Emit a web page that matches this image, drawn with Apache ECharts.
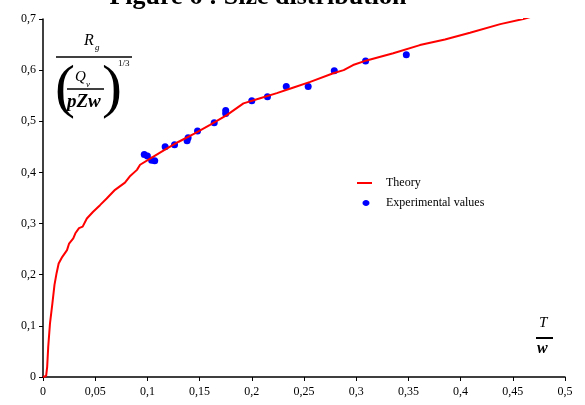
<!DOCTYPE html>
<html><head><meta charset="utf-8">
<script src="https://cdn.jsdelivr.net/npm/echarts@6/dist/echarts.min.js"></script>
<style>html,body{margin:0;padding:0;background:#fff}#c{width:585px;height:405px}</style>
</head><body><div id="c"></div>
<script>
var xTicks = ['0','0,05','0,1','0,15','0,2','0,25','0,3','0,35','0,4','0,45','0,5'];
var yTicks = ['0','0,1','0,2','0,3','0,4','0,5','0,6','0,7'];
var theoryX = [0,0.003,0.004,0.005,0.0067,0.009,0.011,0.013,0.015,0.0185,0.023,0.025,0.029,0.031,0.0345,0.038,0.042,0.048,0.0546,0.061,0.069,0.0785,0.083,0.090,0.093,0.105,0.118,0.130,0.145,0.160,0.176,0.192,0.208,0.224,0.240,0.256,0.278,0.288,0.297,0.310,0.3355,0.361,0.385,0.409,0.438,0.460,0.481];
var theoryY = [0,0.002,0.020,0.059,0.105,0.144,0.180,0.203,0.222,0.235,0.248,0.261,0.271,0.281,0.291,0.294,0.310,0.323,0.336,0.349,0.366,0.380,0.392,0.405,0.415,0.430,0.446,0.460,0.476,0.493,0.512,0.535,0.545,0.555,0.566,0.577,0.594,0.600,0.610,0.619,0.633,0.649,0.660,0.673,0.690,0.700,0.712];
var expX = [0.097,0.100,0.104,0.107,0.117,0.126,0.138,0.139,0.148,0.164,0.175,0.175,0.200,0.215,0.233,0.254,0.279,0.309,0.348];
var expY = [0.435,0.432,0.424,0.423,0.450,0.454,0.462,0.468,0.481,0.497,0.515,0.521,0.540,0.548,0.568,0.568,0.599,0.618,0.630];
var seriesNames = ['Theory','Experimental values'];

var theory = theoryX.map(function(x,i){return [x, theoryY[i]];});
var exp = expX.map(function(x,i){return [x, expY[i]];});
var F = 'Liberation Serif';
var chart = echarts.init(document.getElementById('c'));
chart.setOption({
  animation:false,
  backgroundColor:'#fff',
  grid:{left:43,right:20,top:19,bottom:28},
  xAxis:{type:'value',min:0,max:0.5,interval:0.05,
    axisLine:{lineStyle:{color:'#000',width:1.5}},
    axisTick:{show:true,length:4,lineStyle:{color:'#000'}},
    splitLine:{show:false},
    axisLabel:{color:'#000',fontFamily:F,fontSize:12,margin:9,formatter:function(v,i){return xTicks[Math.round(v/0.05)];}}},
  yAxis:{type:'value',min:0,max:0.7,interval:0.1,
    axisLine:{show:true,lineStyle:{color:'#000',width:1.5}},
    axisTick:{show:true,length:4,lineStyle:{color:'#000'}},
    splitLine:{show:false},
    axisLabel:{color:'#000',fontFamily:F,fontSize:12,margin:7,formatter:function(v){return yTicks[Math.round(v/0.1)];}}},
  series:[
    {name:seriesNames[0],type:'line',data:theory,symbol:'none',lineStyle:{color:'#ff0000',width:2},itemStyle:{color:'#ff0000'}},
    {name:seriesNames[1],type:'scatter',data:exp,symbol:'circle',symbolSize:7,itemStyle:{color:'#0000ff',opacity:1}}
  ],
  graphic:[
    {type:'text',x:258,y:10,style:{text:'Figure 6 : Size distribution',font:'bold 26px "Liberation Serif"',fill:'#000',textAlign:'center',textVerticalAlign:'bottom'}},
    {type:'text',x:84,y:33,style:{text:'R',font:'italic 16px "Liberation Serif"',fill:'#000'}},
    {type:'text',x:95,y:43,style:{text:'g',font:'italic 9px "Liberation Serif"',fill:'#000'}},
    {type:'line',shape:{x1:56,y1:57,x2:132,y2:57},style:{stroke:'#000',lineWidth:1.5}},
    {type:'text',x:55,y:60,style:{text:'(',font:'60px "Liberation Serif"',fill:'#000'}},
    {type:'text',x:102,y:60,style:{text:')',font:'60px "Liberation Serif"',fill:'#000'}},
    {type:'text',x:118,y:59,style:{text:'1/3',font:'9px "Liberation Serif"',fill:'#000'}},
    {type:'text',x:75,y:70,style:{text:'Q',font:'italic 15px "Liberation Serif"',fill:'#000'}},
    {type:'text',x:86,y:80,style:{text:'v',font:'italic 9px "Liberation Serif"',fill:'#000'}},
    {type:'line',shape:{x1:67,y1:89,x2:104,y2:89},style:{stroke:'#000',lineWidth:1.5}},
    {type:'text',x:67,y:93,style:{text:'pZw',font:'bold italic 19px "Liberation Serif"',fill:'#000'}},
    {type:'text',x:539,y:316,style:{text:'T',font:'italic 15px "Liberation Serif"',fill:'#000'}},
    {type:'line',shape:{x1:536,y1:338,x2:553,y2:338},style:{stroke:'#000',lineWidth:2}},
    {type:'text',x:537,y:341,style:{text:'w',font:'bold italic 16px "Liberation Serif"',fill:'#000'}},
    {type:'line',shape:{x1:357,y1:183,x2:372,y2:183},style:{stroke:'#ff0000',lineWidth:2}},
    {type:'text',x:386,y:183,style:{text:seriesNames[0],font:'12px "Liberation Serif"',fill:'#000',textVerticalAlign:'middle'}},
    {type:'ellipse',shape:{cx:366,cy:203,rx:3.5,ry:3},style:{fill:'#0000ff'}},
    {type:'text',x:386,y:203,style:{text:seriesNames[1],font:'12px "Liberation Serif"',fill:'#000',textVerticalAlign:'middle'}}
  ]
});
</script></body></html>
